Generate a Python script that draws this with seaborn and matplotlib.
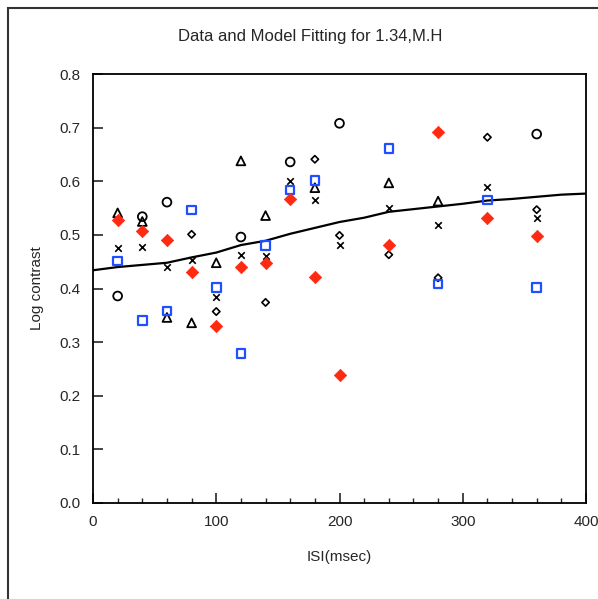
import numpy as np
import pandas as pd
import matplotlib
matplotlib.use("Agg")
import matplotlib.pyplot as plt
from matplotlib.patches import Rectangle
from matplotlib.ticker import MultipleLocator
import seaborn as sns

# ---------------- data ----------------
isi = [20, 40, 60, 80, 100, 120, 140, 160, 180, 200, 240, 280, 320, 360]
nan = np.nan
red_diamonds = [0.528, 0.508, 0.491, 0.430, 0.330, 0.440, 0.448, 0.566, 0.421, 0.238, 0.482, 0.691, 0.532, 0.498]
blue_squares = [0.451, 0.340, 0.358, 0.546, 0.402, 0.279, 0.480, 0.584, 0.601, nan, 0.661, 0.408, 0.565, 0.402]
circles      = [0.386, 0.534, 0.561, nan, nan, 0.496, nan, 0.636, nan, 0.708, nan, nan, nan, 0.688]
small_diam   = [nan, nan, nan, 0.501, 0.357, nan, 0.374, nan, 0.641, 0.499, 0.463, 0.420, 0.682, 0.547]
triangles    = [0.541, 0.525, 0.346, 0.336, 0.448, 0.638, 0.536, nan, 0.588, nan, 0.597, 0.563, nan, nan]
crosses      = [0.476, 0.478, 0.441, 0.454, 0.384, 0.462, 0.460, 0.601, 0.565, 0.481, 0.550, 0.519, 0.590, 0.531]

model_x = [0, 20, 40, 60, 80, 100, 120, 140, 160, 180, 200, 220, 240, 260, 280, 300, 320, 340, 360, 380, 400]
model_y = [0.434, 0.440, 0.444, 0.448, 0.458, 0.467, 0.481, 0.489, 0.502, 0.513, 0.524, 0.532, 0.543, 0.548,
           0.553, 0.558, 0.564, 0.567, 0.571, 0.575, 0.577]

title = "Data and Model Fitting for 1.34,M.H"
xlabel = "ISI(msec)"
ylabel = "Log contrast"

# ---------------- figure ----------------
sns.set_style("ticks")
plt.rcParams["font.family"] = ["Liberation Sans", "DejaVu Sans"]

fig = plt.figure(figsize=(5.98, 5.99), dpi=100)
ax = fig.add_axes([93 / 598, 1 - 503 / 599, (586 - 93) / 598, (503 - 74) / 599])

df_model = pd.DataFrame({"x": model_x, "y": model_y})
sns.lineplot(data=df_model, x="x", y="y", ax=ax, color="black", lw=1.6, zorder=2)

def scatter(vals, **kw):
    d = pd.DataFrame({"x": isi, "y": vals}).dropna()
    sns.scatterplot(data=d, x="x", y="y", ax=ax, legend=False, zorder=3, **kw)

scatter(circles, marker="o", s=40, facecolor="none", edgecolor="black", linewidth=1.3)
scatter(small_diam, marker="D", s=14, facecolor="none", edgecolor="black", linewidth=1.2)
scatter(triangles, marker="^", s=40, facecolor="none", edgecolor="black", linewidth=1.3)
scatter(crosses, marker="x", s=22, color="black", linewidth=1.2)
scatter(blue_squares, marker="s", s=38, facecolor="none", edgecolor="#1f4fff", linewidth=1.6)
scatter(red_diamonds, marker="D", s=40, color="#ff2a12", edgecolor="#ff2a12", linewidth=0.5)

ax.set_xlim(0, 400)
ax.set_ylim(0, 0.8)
ax.xaxis.set_major_locator(MultipleLocator(100))
ax.xaxis.set_minor_locator(MultipleLocator(20))
ax.yaxis.set_major_locator(MultipleLocator(0.1))
ax.yaxis.set_major_formatter(matplotlib.ticker.FormatStrFormatter("%.1f"))

for s in ax.spines.values():
    s.set_linewidth(1.3)
    s.set_color("black")

ax.tick_params(axis="both", which="major", direction="in", length=7, width=1.2,
               labelsize=11, pad=9, top=False, right=False)
ax.tick_params(axis="x", which="minor", direction="in", length=3.5, width=1.0, top=False)

ax.set_xlabel(xlabel, fontsize=11, labelpad=15)
ax.set_ylabel(ylabel, fontsize=11, labelpad=11)
fig.text(310 / 598, 1 - 37 / 599, title, fontsize=12, ha="center", va="center")

frame = Rectangle((8 / 598, -0.2), 2.0, 1.2 - 7.5 / 599, transform=fig.transFigure,
                  fill=False, edgecolor="#333333", linewidth=1.5, clip_on=False)
fig.patches.append(frame)

fig.savefig("out.png", dpi=100)
